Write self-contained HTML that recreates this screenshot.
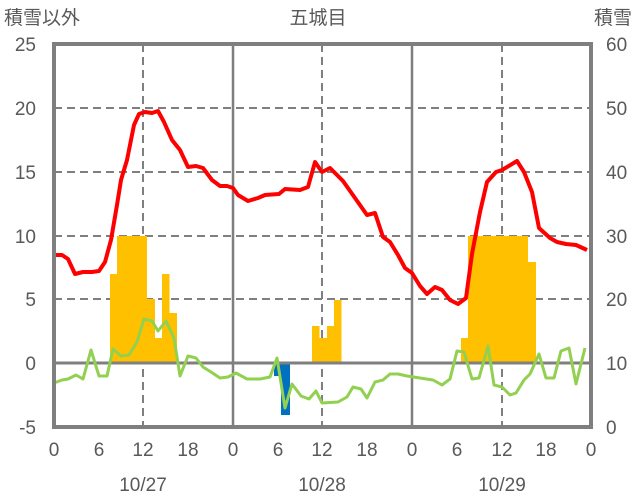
<!DOCTYPE html>
<html><head><meta charset="utf-8"><style>
html,body{margin:0;padding:0;background:#fff;}
svg{display:block;}
text{font-family:"Liberation Sans","Noto Sans CJK JP",sans-serif;fill:#595959;font-size:19px;}
</style></head><body>
<svg width="636" height="501" viewBox="0 0 636 501" xmlns="http://www.w3.org/2000/svg">
<!-- grid -->
<g stroke="#7f7f7f" stroke-width="2" stroke-dasharray="8,5">
<line x1="54" y1="108" x2="591" y2="108"/>
<line x1="54" y1="172" x2="591" y2="172"/>
<line x1="54" y1="236" x2="591" y2="236"/>
<line x1="54" y1="299" x2="591" y2="299"/>
<line x1="143" y1="44" x2="143" y2="427"/>
<line x1="322" y1="44" x2="322" y2="427"/>
<line x1="502" y1="44" x2="502" y2="427"/>
</g>
<g stroke="#7f7f7f" stroke-width="2.5">
<line x1="233" y1="44" x2="233" y2="427"/>
<line x1="412" y1="44" x2="412" y2="427"/>
</g>
<!-- bars -->
<g fill="#ffc000">
<rect x="110" y="274" width="7.5" height="89"/>
<rect x="117" y="236" width="30" height="127"/>
<rect x="147" y="299" width="8" height="64"/>
<rect x="155" y="338" width="7" height="25"/>
<rect x="162" y="274" width="7.5" height="89"/>
<rect x="169" y="313" width="8" height="50"/>
<rect x="312" y="326" width="7.5" height="37"/>
<rect x="319" y="338" width="8" height="25"/>
<rect x="327" y="326" width="7.5" height="37"/>
<rect x="334" y="300" width="7.5" height="63"/>
<rect x="461" y="338" width="7.5" height="25"/>
<rect x="468" y="236" width="60" height="127"/>
<rect x="528" y="262" width="8" height="101"/>
</g>
<g fill="#0070c0">
<rect x="274" y="363" width="7" height="13"/>
<rect x="281" y="363" width="9" height="52"/>
</g>
<line x1="54" y1="363" x2="591" y2="363" stroke="#7f7f7f" stroke-width="3"/>
<!-- lines -->
<polyline fill="none" stroke="#92d050" stroke-width="3" stroke-linejoin="round" points="54,383 62,380 68,379 76,375 83,379 91,350 99,376 107,376 113,349 121,356 129,355 137,342 144,319 152,321 158,331 166,321 174,338 180,376 188,356 196,358 203,367 211,372 220,378 228,377 236,373 247,379 260,379 270,377 277,358 285,408 292,384 301,396 309,399 316,391 322,403 338,402 347,397 353,387 361,389 367,398 375,382 383,380 390,374 398,374 407,376 420,378 433,380 442,385 450,379 457,351 464,352 472,379 479,378 488,346 494,385 502,387 510,395 516,393 524,380 530,374 539,354 546,378 554,378 561,351 569,348 576,384 585,348"/>
<polyline fill="none" stroke="#ff0000" stroke-width="4" stroke-linejoin="round" points="54,255 62,255 68,259 75,274 83,272 92,272 99,271 105,262 111,240 117,205 121,180 127,160 134,125 139,114 145,112 152,113 158,111 164,122 172,140 180,150 188,167 196,166 203,168 212,180 220,186 227,186 233,188 238,195 248,201 258,198 265,195 279,194 285,189 300,190 308,187 315,162 322,172 330,168 343,181 355,198 367,215 375,213 383,237 390,242 398,255 405,268 412,273 420,286 427,294 435,287 442,290 450,300 458,304 466,298 472,254 480,212 487,182 496,172 502,170 517,161 524,172 532,192 539,228 550,238 557,242 566,244 576,245 587,250"/>
<!-- frame -->
<rect x="54" y="44" width="537" height="383" fill="none" stroke="#7f7f7f" stroke-width="4"/>
<!-- texts -->
<text x="4" y="24">積雪以外</text>
<text x="318" y="24" text-anchor="middle">五城目</text>
<text x="632" y="24" text-anchor="end">積雪</text>
<g text-anchor="end">
<text x="36" y="51">25</text>
<text x="36" y="115">20</text>
<text x="36" y="179">15</text>
<text x="36" y="243">10</text>
<text x="36" y="306">5</text>
<text x="36" y="370">0</text>
<text x="36" y="434">-5</text>
</g>
<g>
<text x="606" y="51">60</text>
<text x="606" y="115">50</text>
<text x="606" y="179">40</text>
<text x="606" y="243">30</text>
<text x="606" y="306">20</text>
<text x="606" y="370">10</text>
<text x="606" y="434">0</text>
</g>
<g text-anchor="middle">
<text x="54" y="456">0</text><text x="99" y="456">6</text><text x="143" y="456">12</text><text x="188" y="456">18</text>
<text x="233" y="456">0</text><text x="278" y="456">6</text><text x="322" y="456">12</text><text x="367" y="456">18</text>
<text x="412" y="456">0</text><text x="457" y="456">6</text><text x="502" y="456">12</text><text x="546" y="456">18</text>
<text x="591" y="456">0</text>
<text x="143" y="491">10/27</text><text x="322" y="491">10/28</text><text x="502" y="491">10/29</text>
</g>
</svg>
</body></html>
